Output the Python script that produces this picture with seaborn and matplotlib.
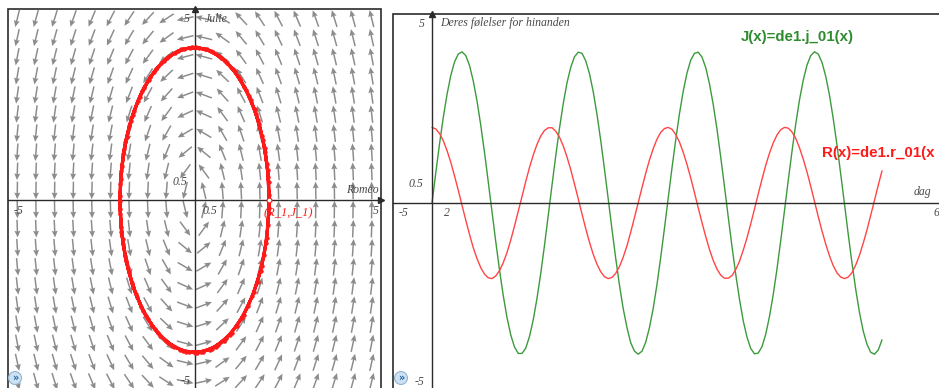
import numpy as np
import matplotlib
matplotlib.use("Agg")
import matplotlib.pyplot as plt
import seaborn as sns

days = np.arange(0, 60.5, 0.5)

romeo = [
    2.00, 1.96, 1.84, 1.65, 1.39, 1.08, 0.72, 0.34, -0.06, -0.45,
    -0.83, -1.18, -1.47, -1.71, -1.88, -1.98, -2.00, -1.93, -1.79, -1.58,
    -1.31, -0.98, -0.61, -0.22, 0.17, 0.57, 0.94, 1.27, 1.55, 1.77,
    1.92, 1.99, 1.99, 1.90, 1.74, 1.51, 1.22, 0.88, 0.50, 0.11,
    -0.29, -0.68, -1.04, -1.36, -1.62, -1.82, -1.95, -2.00, -1.97, -1.86,
    -1.68, -1.43, -1.13, -0.77, -0.38, 0.01, 0.41, 0.79, 1.14, 1.44,
    1.69, 1.87, 1.97, 2.00, 1.95, 1.81, 1.61, 1.34, 1.02, 0.66,
    0.27, -0.13, -0.52, -0.89, -1.23, -1.52, -1.75, -1.91, -1.99, -1.99,
    -1.92, -1.76, -1.54, -1.25, -0.92, -0.55, -0.16, 0.24, 0.63, 1.00,
    1.32, 1.59, 1.80, 1.94, 2.00, 1.98, 1.88, 1.71, 1.46, 1.16,
    0.82, 0.44, 0.04, -0.36, -0.74, -1.09, -1.40, -1.66, -1.85, -1.96,
    -2.00, -1.96, -1.84, -1.64, -1.38, -1.06, -0.71, -0.32, 0.07, 0.47,
    0.85,
]

julie = [
    0.00, 0.79, 1.56, 2.26, 2.87, 3.37, 3.73, 3.94, 4.00, 3.90,
    3.64, 3.23, 2.70, 2.06, 1.34, 0.56, -0.23, -1.02, -1.77, -2.45,
    -3.03, -3.49, -3.81, -3.98, -3.98, -3.84, -3.53, -3.09, -2.52, -1.86,
    -1.12, -0.33, 0.47, 1.25, 1.98, 2.63, 3.18, 3.59, 3.87, 3.99,
    3.96, 3.76, 3.42, 2.94, 2.34, 1.65, 0.89, 0.10, -0.70, -1.47,
    -2.18, -2.80, -3.30, -3.70, -3.92, -4.00, -3.92, -3.68, -3.29, -2.78,
    -2.15, -1.43, -0.66, 0.14, 0.93, 1.68, 2.37, 2.96, 3.44, 3.78,
    3.96, 3.99, 3.86, 3.58, 3.15, 2.60, 1.95, 1.21, 0.43, -0.37,
    -1.15, -1.89, -2.55, -3.12, -3.55, -3.85, -3.99, -3.97, -3.80, -3.47,
    -3.00, -2.42, -1.74, -0.99, -0.20, 0.60, 1.37, 2.09, 2.73, 3.25,
    3.65, 3.90, 4.00, 3.94, 3.72, 3.35, 2.85, 2.23, 1.53, 0.76,
    -0.03, -0.83, -1.59, -2.29, -2.90, -3.39, -3.74, -3.95, -4.00, -3.89,
    -3.62,
]

# direction field: R' = dr_per_j * J, J' = dj_per_r * R
dr_per_j = -0.2
dj_per_r = 0.8
field_pos = np.arange(-4.75, 5.0, 0.5)

sns.set_theme(style="white")
plt.rcParams["font.family"] = ["DejaVu Sans"]

serif = ["Liberation Serif", "DejaVu Serif"]
sans = ["Liberation Sans", "DejaVu Sans"]
axis_col = "#2b2b2b"
lbl_col = "#4a4a4a"
red = "#ff1a1a"
green = "#3c9a3c"

fig = plt.figure(figsize=(9.39, 3.88), dpi=100)
fig.patch.set_facecolor("white")


def setup_axes(ax, xticks, yticks):
    for side in ["top", "right"]:
        ax.spines[side].set_visible(False)
    for side in ["left", "bottom"]:
        ax.spines[side].set_position(("data", 0))
        ax.spines[side].set_color(axis_col)
        ax.spines[side].set_linewidth(1.0)
    ax.patch.set_edgecolor(axis_col)
    ax.patch.set_linewidth(1.2)
    ax.set_xticks(xticks)
    ax.set_yticks(yticks)
    ax.set_xticklabels([])
    ax.set_yticklabels([])
    ax.tick_params(direction="inout", length=4, width=0.7, colors="#777777")
    ax.set_xlabel("")
    ax.set_ylabel("")
    ax.plot(0, 1, marker="^", color=axis_col, ms=4, transform=ax.get_xaxis_transform(), clip_on=False)


# ---- left panel: phase plane
ax1 = fig.add_axes([8 / 939, -3 / 388, 373 / 939, 382 / 388])
ax1.set_xlim(-5, 5)
ax1.set_ylim(-5, 5)

gx, gy = np.meshgrid(field_pos, field_pos)
u = dr_per_j * gy
v = dj_per_r * gx
norm = np.hypot(u, v)
ax1.quiver(gx, gy, u / norm, v / norm, angles="xy", scale_units="xy", scale=1 / 0.46,
           pivot="middle", color="#8c8c8c", width=0.004, headwidth=4,
           headlength=4.5, headaxislength=4, zorder=1)

sns.lineplot(x=romeo, y=julie, sort=False, estimator=None, ax=ax1, color=red,
             lw=2.2, marker="o", ms=2.4, mec=red, zorder=3)
ax1.plot(romeo[0], julie[0], "o", ms=3.5, mfc="white", mec=red, mew=0.8, zorder=4)

setup_axes(ax1, np.arange(-4.5, 5, 0.5), np.arange(-4.5, 5, 0.5))
ax1.plot(1, 0, marker=">", color=axis_col, ms=4, transform=ax1.get_yaxis_transform(), clip_on=False)

tkw = dict(family=serif, style="italic", color=lbl_col, fontsize=8.5)
ax1.text(-0.12, 4.75, "5", ha="right", va="center", **tkw)
ax1.text(0.27, 4.75, "Julie", ha="left", va="center", **tkw)
ax1.text(-0.18, 0.47, "0.5", ha="right", va="center", **tkw)
ax1.text(4.95, 0.1, "Romeo", ha="right", va="bottom", **tkw)
ax1.text(-4.85, -0.12, "-5", ha="left", va="top", **tkw)
ax1.text(0.22, -0.12, "0.5", ha="left", va="top", **tkw)
ax1.text(4.95, -0.12, "5", ha="right", va="top", **tkw)
ax1.text(-0.12, -4.74, "-5", ha="right", va="center", **tkw)
ax1.text(1.85, -0.36, "(R_1,J_1)", ha="left", va="center", family=serif,
         style="italic", color=red, fontsize=9, zorder=5)

# ---- right panel: time series
ax2 = fig.add_axes([393 / 939, -4 / 388, 550 / 939, 378 / 388])
ax2.set_xlim(-5.2, -5.2 + 550 / 7.5)
ax2.set_ylim(-5, 5)

sns.lineplot(x=days, y=julie, ax=ax2, color=green, lw=1.0, estimator=None)
sns.lineplot(x=days, y=romeo, ax=ax2, color="#ff4545", lw=1.0, estimator=None)

setup_axes(ax2, np.arange(-4, 68, 2), np.arange(-4.5, 5, 0.5))

ax2.text(-1.0, 4.74, "5", ha="right", va="center", **tkw)
ax2.text(1.1, 4.76, "Deres følelser for hinanden", ha="left", va="center", **tkw)
ax2.text(-1.1, 0.5, "0.5", ha="right", va="center", **tkw)
ax2.text(-4.5, -0.26, "-5", ha="left", va="center", **tkw)
ax2.text(2.0, -0.26, "2", ha="center", va="center", **tkw)
ax2.text(66.9, -0.26, "6", ha="left", va="center", **tkw)
ax2.text(66.6, 0.28, "dag", ha="right", va="center", **tkw)
ax2.text(-1.0, -4.74, "-5", ha="right", va="center", **tkw)

fkw = dict(family=sans, fontweight="bold", fontsize=10.8, ha="left", va="center")
ax2.text(41.2, 4.39, "J(x)=de1.j_01(x)", color="#2e8b2e", **fkw)
ax2.text(52.0, 1.32, "R(x)=de1.r_01(x", color=red, **fkw)

# small blue buttons in the bottom corners
for px in [15, 401]:
    fig.text(px / 939, 10 / 388, "»", ha="center", va="center", fontsize=7,
             color="#1f5f9f", fontweight="bold",
             bbox=dict(boxstyle="circle,pad=0.15", fc="#cfe2f3", ec="#8fb4d4", lw=0.8))

fig.savefig("out.png", dpi=100)
